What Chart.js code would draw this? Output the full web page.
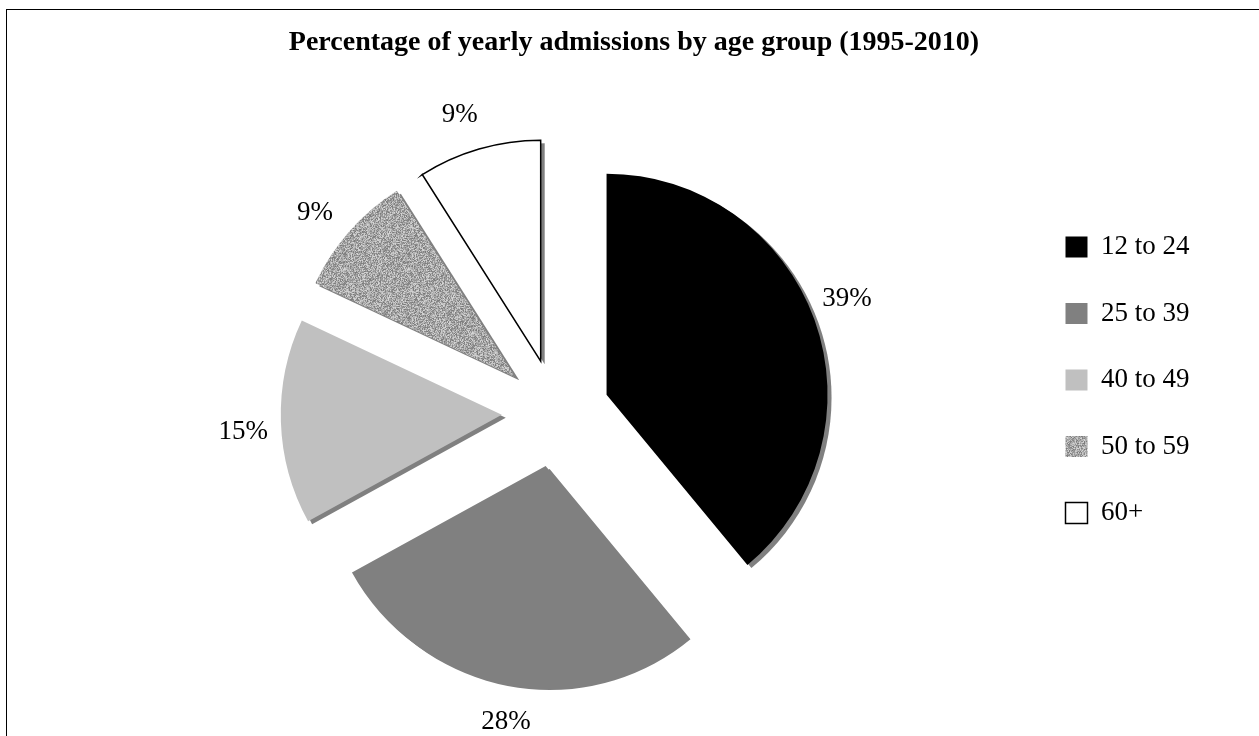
<!DOCTYPE html>
<html lang="en">
<head>
    <meta charset="UTF-8">
    <title>Percentage of yearly admissions by age group (1995-2010)</title>
    <script src="https://cdn.jsdelivr.net/npm/chart.js"></script>
    <style>
        body, html { margin: 0; padding: 0; width: 100%; height: 100%; overflow: hidden; background: #fff; }
        #frame { position: absolute; left: 6px; top: 9px; width: 1300px; height: 800px; border-left: 1px solid #000; border-top: 1px solid #000; }
        #chartContainer { position: absolute; left: 0; top: 0; width: 1259px; height: 736px; }
    </style>
</head>
<body>
    <div id="frame"></div>
    <div id="chartContainer"><canvas id="chartCanvas" width="1259" height="736"></canvas></div>

    <script>
        const chartTitle = 'Percentage of yearly admissions by age group (1995-2010)';
        const ageGroups = ['12 to 24', '25 to 39', '40 to 49', '50 to 59', '60+'];
        const admissionShare = [39, 28, 15, 9, 9];

        const serif = '"Liberation Serif", "Times New Roman", serif';
        Chart.defaults.font.family = serif;
        Chart.defaults.color = '#000';

        // speckled grey fill for the 50 to 59 slice (fixed seed so it is the same each time)
        function speckle() {
            const c = document.createElement('canvas');
            c.width = c.height = 64;
            const g = c.getContext('2d');
            const img = g.createImageData(64, 64);
            let seed = 12345;
            for (let i = 0; i < img.data.length; i += 4) {
                seed = (seed * 1103515245 + 12345) & 0x7fffffff;
                const v = 120 + ((seed >> 8) % 95);
                img.data[i] = img.data[i + 1] = img.data[i + 2] = v;
                img.data[i + 3] = 255;
            }
            g.putImageData(img, 0, 0);
            return g.createPattern(c, 'repeat');
        }

        // empty box on the left so the title sits over the whole figure, not only the pie
        const leftSpacer = {
            id: 'leftSpacer',
            beforeInit(chart, args, opts) {
                if (!Chart.layouts) return;
                const w = (opts && opts.width) || 17;
                Chart.layouts.addBox(chart, {
                    position: 'left', weight: 0, fullSize: false, options: {},
                    isHorizontal() { return false; },
                    update(maxWidth, maxHeight) { this.width = w; this.height = maxHeight; },
                    draw() {}
                });
            }
        };

        // pull every slice out along its middle angle
        const explode = {
            id: 'explode',
            afterDatasetsUpdate(chart, args, opts) {
                chart.getDatasetMeta(0).data.forEach(arc => {
                    const mid = (arc.startAngle + arc.endAngle) / 2;
                    arc.x += Math.cos(mid) * opts.distance;
                    arc.y += Math.sin(mid) * opts.distance;
                });
            }
        };

        // flat grey drop shadow under each slice
        const sliceShadow = {
            id: 'sliceShadow',
            beforeDatasetsDraw(chart, args, opts) {
                const ctx = chart.ctx;
                ctx.save();
                ctx.fillStyle = opts.color;
                chart.getDatasetMeta(0).data.forEach(arc => {
                    const x = arc.x + opts.dx, y = arc.y + opts.dy;
                    ctx.beginPath();
                    ctx.moveTo(x, y);
                    ctx.arc(x, y, arc.outerRadius, arc.startAngle, arc.endAngle);
                    ctx.closePath();
                    ctx.fill();
                });
                ctx.restore();
            }
        };

        // percentage labels outside each slice
        const sliceLabels = {
            id: 'sliceLabels',
            afterDatasetsDraw(chart, args, opts) {
                const ctx = chart.ctx;
                const values = chart.data.datasets[0].data;
                const total = values.reduce((a, b) => a + b, 0);
                ctx.save();
                ctx.font = opts.size + 'px ' + serif;
                ctx.fillStyle = '#000';
                ctx.textAlign = 'center';
                ctx.textBaseline = 'middle';
                chart.getDatasetMeta(0).data.forEach((arc, i) => {
                    const a = (arc.startAngle + arc.endAngle) / 2 + opts.turn;
                    const r = arc.outerRadius + opts.gap;
                    ctx.fillText(Math.round(values[i] / total * 100) + '%', arc.x + Math.cos(a) * r, arc.y + Math.sin(a) * r);
                });
                ctx.restore();
            }
        };

        const ctx = document.getElementById('chartCanvas').getContext('2d');
        const chart = new Chart(ctx, {
            type: 'pie',
            data: {
                labels: ageGroups,
                datasets: [{
                    data: admissionShare,
                    backgroundColor: ['#000000', '#808080', '#c0c0c0', speckle(), '#ffffff'],
                    borderColor: '#000',
                    borderWidth: [0, 0, 0, 0, 1.5],
                    borderJoinStyle: 'miter',
                    clip: false
                }]
            },
            options: {
                responsive: false,
                animation: false,
                events: [],
                radius: 221,
                layout: { padding: { left: 68.5, right: 59.5, top: 0, bottom: 104 } },
                plugins: {
                    title: {
                        display: true,
                        text: chartTitle,
                        font: { size: 28, weight: 'bold' },
                        padding: { top: 25.7, bottom: 134.7 }
                    },
                    legend: {
                        position: 'right',
                        align: 'start',
                        fullSize: false,
                        labels: { boxWidth: 22, boxHeight: 21, padding: 39.5, font: { size: 27 } }
                    },
                    tooltip: { enabled: false },
                    leftSpacer: { width: 17 },
                    explode: { distance: 54 },
                    sliceShadow: { color: '#808080', dx: 4, dy: 3 },
                    sliceLabels: { size: 27, gap: 38, turn: -0.035 }
                }
            },
            plugins: [leftSpacer, explode, sliceShadow, sliceLabels]
        });
    </script>
</body>
</html>
